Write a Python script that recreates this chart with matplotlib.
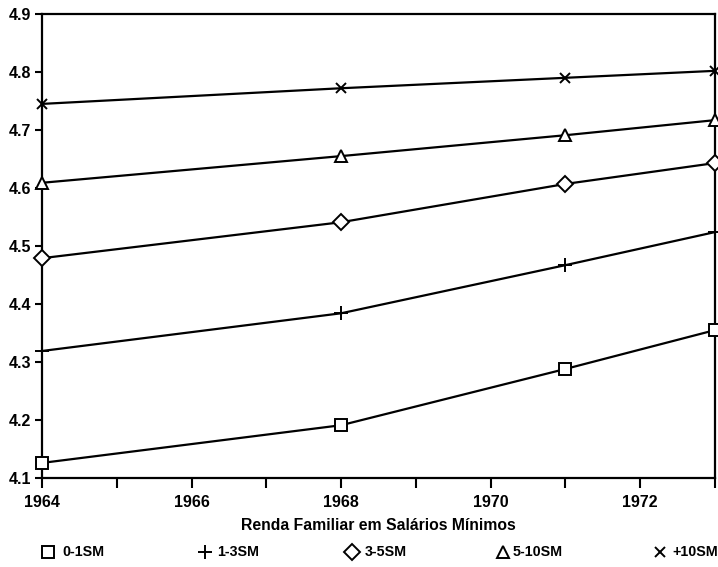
import matplotlib
matplotlib.use("Agg")
import matplotlib.pyplot as plt
from matplotlib.lines import Line2D

years = [1964, 1968, 1971, 1973]
s_0_1 = [4.126, 4.191, 4.288, 4.355]
s_1_3 = [4.319, 4.384, 4.467, 4.524]
s_3_5 = [4.479, 4.541, 4.607, 4.643]
s_5_10 = [4.609, 4.655, 4.691, 4.717]
s_10p = [4.745, 4.772, 4.790, 4.802]
labels = ["0-1SM", "1-3SM", "3-5SM", "5-10SM", "+10SM"]
xlabel = "Renda Familiar em Salários Mínimos"

plt.rcParams['font.family'] = ['Liberation Sans', 'DejaVu Sans']

fig = plt.figure(figsize=(7.18, 5.67), dpi=100)
ax = fig.add_axes([42/718, 1-478/567, (715-42)/718, (478-14)/567])

series = [s_0_1, s_1_3, s_3_5, s_5_10, s_10p]
markers = ['s', '+', 'D', '^', 'x']
msizes = [8.5, 10, 8.5, 8, 7]
for vals, m, ms in zip(series, markers, msizes):
    ax.plot(years, vals, color='black', lw=1.6, marker=m, ms=ms,
            mfc='white', mec='black', mew=1.4, clip_on=False, zorder=3)

ax.set_xlim(1964, 1973)
ax.set_ylim(4.1, 4.9)
ax.set_xticks(range(1964, 1974))
ax.set_xticklabels([str(y) if y % 2 == 0 else "" for y in range(1964, 1974)])
ax.set_yticks([4.1, 4.2, 4.3, 4.4, 4.5, 4.6, 4.7, 4.8, 4.9])
ax.set_yticklabels(["4.1", "4.2", "4.3", "4.4", "4.5", "4.6", "4.7", "4.8", "4.9"])
ax.tick_params(axis='x', direction='out', length=7, width=1.5, labelsize=11.5, pad=5)
ax.tick_params(axis='y', direction='out', length=5, width=1.5, labelsize=11.5, pad=3)
for lab in ax.get_xticklabels() + ax.get_yticklabels():
    lab.set_fontweight('bold')
for sp in ax.spines.values():
    sp.set_linewidth(1.6)

fig.text(378/718, 1-526/567, xlabel, ha='center', va='center', fontsize=11.3, fontweight='bold')

leg_mx = [48, 205, 352, 503, 660]
leg_tx = [62, 217, 365, 513, 672]
leg_y = 1-552/567
for m, ms, mx, tx, lab in zip(markers, msizes, leg_mx, leg_tx, labels):
    fig.add_artist(Line2D([mx/718], [leg_y], transform=fig.transFigure, marker=m, ms=ms,
                          mfc='white', mec='black', mew=1.4, ls='none'))
    fig.text(tx/718, leg_y, lab, ha='left', va='center', fontsize=10.3, fontweight='bold')

fig.savefig("out.png", dpi=100)
